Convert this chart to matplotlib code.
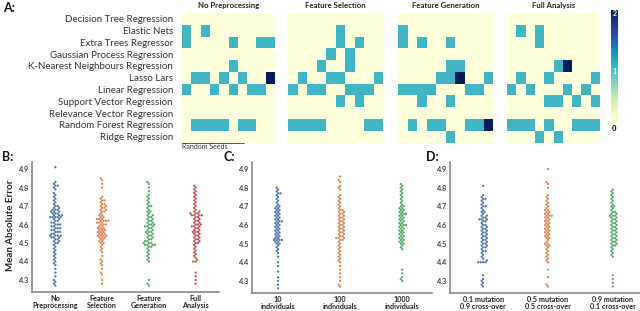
import matplotlib
matplotlib.use('Agg')
import matplotlib.pyplot as plt
import numpy as np
import pandas as pd
import seaborn as sns

# ---------------- data ----------------
models = ["Decision Tree Regression", "Elastic Nets", "Extra Trees Regressor",
          "Gaussian Process Regression", "K-Nearest Neighbours Regression",
          "Lasso Lars", "Linear Regression", "Support Vector Regression",
          "Relevance Vector Regression", "Random Forest Regression", "Ridge Regression"]
panel_titles = ["No Preprocessing", "Feature Selection", "Feature Generation", "Full Analysis"]

heat_no_pre = [
    [0,0,0,0,0,0,0,0,0,0],
    [1,0,1,0,0,0,0,0,0,0],
    [1,0,0,0,0,1,0,0,1,1],
    [0,0,0,0,0,0,0,0,0,0],
    [0,0,0,0,0,1,0,0,0,0],
    [0,1,1,0,1,0,1,0,0,2],
    [1,0,0,1,0,1,0,1,1,0],
    [0,0,0,0,0,0,0,0,0,0],
    [0,0,0,0,0,0,0,0,0,0],
    [0,1,1,1,1,0,1,1,0,0],
    [0,0,0,0,0,0,0,0,0,0]]
heat_feat_sel = [
    [0,0,0,0,0,0,0,0,0,0],
    [0,0,0,0,0,1,0,0,0,0],
    [0,0,0,0,0,1,0,1,0,0],
    [0,0,0,0,1,0,1,0,0,0],
    [0,0,0,1,0,0,1,0,0,0],
    [0,1,0,0,1,1,0,0,0,1],
    [1,0,1,1,0,0,1,1,1,0],
    [0,0,0,0,0,1,0,1,0,0],
    [0,0,0,0,0,0,0,0,0,0],
    [1,1,1,1,0,0,0,0,1,1],
    [0,0,0,0,0,0,0,0,0,0]]
heat_feat_gen = [
    [0,0,0,0,0,0,0,0,0,0],
    [1,0,0,0,0,0,0,0,0,0],
    [1,0,1,0,0,1,0,0,0,0],
    [0,0,0,0,0,0,0,0,0,0],
    [0,0,0,0,0,1,1,0,0,0],
    [0,0,0,0,1,1,2,0,0,1],
    [1,1,1,1,0,0,0,1,1,0],
    [0,0,1,0,0,1,0,0,0,0],
    [0,0,0,0,0,0,0,0,0,0],
    [0,1,0,1,1,0,0,1,1,2],
    [0,0,0,0,0,1,0,0,0,0]]
heat_full = [
    [0,0,0,0,0,0,0,0,0,0],
    [0,1,0,1,0,0,0,0,0,0],
    [0,0,0,1,0,0,0,0,0,0],
    [0,0,0,0,0,0,0,0,0,0],
    [0,0,0,0,0,1,2,0,0,0],
    [0,1,0,0,1,0,0,0,0,1],
    [1,0,1,0,0,0,1,0,1,0],
    [0,0,0,0,1,1,0,1,0,1],
    [0,0,0,0,0,0,0,0,0,0],
    [1,1,1,0,1,0,0,1,1,1],
    [0,0,0,1,0,1,0,0,0,0]]

b_labels = ["No\nPreprocessing", "Feature\nSelection", "Feature\nGeneration", "Full\nAnalysis"]
b_no_pre = [4.91, 4.83, 4.82, 4.81, 4.81, 4.80, 4.79, 4.77, 4.76, 4.75, 4.74, 4.73, 4.72, 4.71, 4.70, 4.70,
            4.69, 4.69, 4.68, 4.68, 4.68, 4.67, 4.67, 4.67, 4.66, 4.66, 4.66, 4.65, 4.65, 4.65, 4.64, 4.64,
            4.64, 4.64, 4.64, 4.63, 4.63, 4.62, 4.62, 4.61, 4.61, 4.60, 4.60, 4.60, 4.59, 4.59, 4.58, 4.58,
            4.58, 4.57, 4.57, 4.56, 4.56, 4.56, 4.55, 4.55, 4.54, 4.54, 4.54, 4.54, 4.53, 4.53, 4.53, 4.52,
            4.52, 4.51, 4.51, 4.50, 4.50, 4.49, 4.48, 4.47, 4.46, 4.45, 4.44, 4.43, 4.42, 4.41, 4.40, 4.39,
            4.38, 4.36, 4.34, 4.32, 4.30, 4.29, 4.28, 4.27]
b_feat_sel = [4.85, 4.84, 4.82, 4.80, 4.75, 4.74, 4.73, 4.73, 4.72, 4.71, 4.71, 4.70, 4.70, 4.69, 4.69, 4.68,
              4.68, 4.67, 4.67, 4.66, 4.65, 4.65, 4.64, 4.64, 4.63, 4.63, 4.63, 4.62, 4.62, 4.62, 4.62, 4.61,
              4.61, 4.61, 4.60, 4.60, 4.60, 4.59, 4.59, 4.58, 4.58, 4.58, 4.57, 4.57, 4.57, 4.56, 4.56, 4.56,
              4.55, 4.55, 4.55, 4.54, 4.54, 4.54, 4.54, 4.53, 4.53, 4.53, 4.52, 4.52, 4.51, 4.51, 4.50, 4.50,
              4.49, 4.48, 4.47, 4.46, 4.45, 4.43, 4.41, 4.40, 4.39, 4.38, 4.36, 4.34, 4.33, 4.30, 4.28]
b_feat_gen = [4.83, 4.82, 4.80, 4.78, 4.76, 4.75, 4.74, 4.73, 4.72, 4.71, 4.70, 4.70, 4.69, 4.68, 4.67, 4.67,
              4.66, 4.65, 4.65, 4.64, 4.64, 4.63, 4.63, 4.62, 4.62, 4.61, 4.61, 4.60, 4.60, 4.60, 4.59, 4.59,
              4.59, 4.58, 4.58, 4.57, 4.57, 4.56, 4.56, 4.56, 4.55, 4.55, 4.54, 4.54, 4.53, 4.53, 4.52, 4.52,
              4.51, 4.51, 4.50, 4.50, 4.50, 4.49, 4.49, 4.49, 4.49, 4.48, 4.48, 4.47, 4.46, 4.45, 4.44, 4.43,
              4.42, 4.41, 4.40, 4.30, 4.28, 4.27]
b_full = [4.81, 4.80, 4.79, 4.78, 4.77, 4.76, 4.75, 4.74, 4.73, 4.72, 4.71, 4.70, 4.69, 4.68, 4.67, 4.67,
          4.66, 4.66, 4.66, 4.65, 4.65, 4.65, 4.65, 4.64, 4.64, 4.63, 4.63, 4.62, 4.62, 4.61, 4.61, 4.60,
          4.60, 4.60, 4.59, 4.59, 4.59, 4.58, 4.58, 4.57, 4.57, 4.56, 4.56, 4.56, 4.55, 4.55, 4.54, 4.54,
          4.53, 4.53, 4.52, 4.52, 4.51, 4.51, 4.50, 4.50, 4.49, 4.48, 4.47, 4.46, 4.45, 4.44, 4.43, 4.42,
          4.41, 4.40, 4.40, 4.34, 4.32, 4.30, 4.28]

c_labels = ["10\nindividuals", "100\nindividuals", "1000\nindividuals"]
c_10 = [4.80, 4.79, 4.78, 4.77, 4.77, 4.76, 4.75, 4.74, 4.73, 4.72, 4.71, 4.70, 4.70, 4.69, 4.69, 4.68,
        4.68, 4.67, 4.67, 4.66, 4.66, 4.65, 4.65, 4.64, 4.64, 4.63, 4.63, 4.62, 4.62, 4.62, 4.61, 4.61,
        4.60, 4.60, 4.59, 4.59, 4.58, 4.58, 4.57, 4.57, 4.56, 4.56, 4.55, 4.55, 4.54, 4.54, 4.53, 4.53,
        4.52, 4.52, 4.52, 4.52, 4.51, 4.51, 4.50, 4.50, 4.49, 4.48, 4.47, 4.46, 4.45, 4.43, 4.40, 4.38,
        4.35, 4.32, 4.30, 4.28, 4.26]
c_100 = [4.86, 4.84, 4.83, 4.81, 4.80, 4.79, 4.76, 4.75, 4.74, 4.73, 4.72, 4.71, 4.70, 4.69, 4.68, 4.68,
         4.67, 4.67, 4.66, 4.66, 4.65, 4.65, 4.64, 4.64, 4.63, 4.63, 4.62, 4.62, 4.61, 4.61, 4.60, 4.60,
         4.59, 4.59, 4.58, 4.58, 4.57, 4.57, 4.56, 4.56, 4.55, 4.55, 4.54, 4.54, 4.53, 4.53, 4.53, 4.52,
         4.52, 4.51, 4.50, 4.49, 4.48, 4.47, 4.46, 4.45, 4.44, 4.43, 4.42, 4.41, 4.40, 4.38, 4.36, 4.34,
         4.32, 4.30, 4.28, 4.27]
c_1000 = [4.82, 4.81, 4.80, 4.79, 4.78, 4.77, 4.76, 4.75, 4.74, 4.73, 4.72, 4.71, 4.70, 4.70, 4.69, 4.69,
          4.68, 4.68, 4.67, 4.67, 4.66, 4.66, 4.66, 4.65, 4.65, 4.64, 4.64, 4.63, 4.63, 4.62, 4.62, 4.61,
          4.61, 4.60, 4.60, 4.60, 4.59, 4.59, 4.58, 4.58, 4.57, 4.57, 4.56, 4.56, 4.55, 4.55, 4.54, 4.54,
          4.53, 4.53, 4.52, 4.52, 4.51, 4.51, 4.50, 4.50, 4.49, 4.48, 4.47, 4.36, 4.34, 4.32, 4.31, 4.30]

d_labels = ["0.1 mutation\n0.9 cross-over", "0.5 mutation\n0.5 cross-over", "0.9 mutation\n0.1 cross-over"]
d_01 = [4.81, 4.76, 4.75, 4.74, 4.74, 4.73, 4.72, 4.71, 4.70, 4.70, 4.69, 4.68, 4.67, 4.67, 4.66, 4.65,
        4.65, 4.64, 4.64, 4.63, 4.63, 4.63, 4.62, 4.62, 4.61, 4.60, 4.60, 4.59, 4.59, 4.58, 4.58, 4.57,
        4.57, 4.56, 4.56, 4.55, 4.55, 4.54, 4.54, 4.53, 4.53, 4.52, 4.52, 4.51, 4.51, 4.50, 4.50, 4.49,
        4.49, 4.48, 4.48, 4.47, 4.46, 4.46, 4.45, 4.44, 4.43, 4.42, 4.41, 4.40, 4.40, 4.40, 4.40, 4.33,
        4.31, 4.30, 4.29, 4.28, 4.27]
d_05 = [4.90, 4.83, 4.82, 4.80, 4.76, 4.75, 4.74, 4.73, 4.72, 4.71, 4.70, 4.69, 4.68, 4.68, 4.67, 4.67,
        4.66, 4.66, 4.65, 4.65, 4.65, 4.64, 4.64, 4.63, 4.63, 4.62, 4.62, 4.61, 4.61, 4.60, 4.60, 4.59,
        4.59, 4.58, 4.58, 4.57, 4.57, 4.56, 4.56, 4.55, 4.55, 4.54, 4.54, 4.53, 4.53, 4.52, 4.51, 4.50,
        4.50, 4.49, 4.49, 4.48, 4.47, 4.46, 4.45, 4.44, 4.43, 4.42, 4.41, 4.40, 4.36, 4.32, 4.28, 4.27]
d_09 = [4.79, 4.78, 4.77, 4.76, 4.75, 4.74, 4.73, 4.72, 4.71, 4.70, 4.70, 4.69, 4.68, 4.67, 4.67, 4.66,
        4.66, 4.65, 4.65, 4.65, 4.64, 4.64, 4.63, 4.63, 4.62, 4.62, 4.61, 4.61, 4.60, 4.60, 4.59, 4.59,
        4.58, 4.58, 4.57, 4.57, 4.56, 4.56, 4.55, 4.55, 4.54, 4.54, 4.53, 4.53, 4.52, 4.52, 4.51, 4.51,
        4.50, 4.50, 4.49, 4.49, 4.48, 4.47, 4.46, 4.45, 4.44, 4.43, 4.33, 4.31, 4.29, 4.27]

yticks = [4.3, 4.4, 4.5, 4.6, 4.7, 4.8, 4.9]
colors = ["#4c72b0", "#dd8452", "#55a868", "#c44e52"]

# ---------------- figure ----------------
sns.set_style("white")
plt.rcParams['font.family'] = ['Lato', 'DejaVu Sans']
W, H = 640, 311
fig = plt.figure(figsize=(W / 100, H / 100), dpi=100)


def ax_px(x0, y0, x1, y1):
    return fig.add_axes([x0 / W, 1 - y1 / H, (x1 - x0) / W, (y1 - y0) / H])


heat_data = [heat_no_pre, heat_feat_sel, heat_feat_gen, heat_full]
heat_pos = [(182, 275), (288, 383), (398, 493), (507, 600)]
im = None
for i, (data, title, (x0, x1)) in enumerate(zip(heat_data, panel_titles, heat_pos)):
    ax = ax_px(x0, 13, x1, 142.5)
    arr = np.array(data)
    im = ax.pcolormesh(arr, cmap='YlGnBu', vmin=0, vmax=2, linewidth=0)
    ax.set_xlim(0, arr.shape[1])
    ax.set_ylim(arr.shape[0], 0)
    ax.set_xticks([])
    for s in ax.spines.values():
        s.set_visible(False)
    if i == 0:
        ax.set_yticks(np.arange(len(models)) + 0.5)
        ax.set_yticklabels(models, fontsize=7, color='#333333')
        ax.tick_params(axis='y', length=0, pad=6.5)
    else:
        ax.set_yticks([])
    ax.set_title(title, fontsize=5.6, fontweight='bold', pad=3.5, color='#222222')

cax = ax_px(611, 10, 618, 125)
cb = fig.colorbar(im, cax=cax)
cb.outline.set_visible(False)
cax.set_yticks([])
fig.text(614.5 / W, 1 - 13 / H, "2", fontsize=5, fontweight='bold', color='white', ha='center', va='center')
fig.text(614.5 / W, 1 - 71.5 / H, "1", fontsize=5, fontweight='bold', color='white', ha='center', va='center')
fig.text(614.5 / W, 1 - 128.5 / H, "0", fontsize=5.5, fontweight='bold', color='black', ha='center', va='center')

# Random seeds line
fig.add_artist(plt.Line2D([182 / W, 244 / W], [1 - 142.8 / H, 1 - 142.8 / H], color='#444444', lw=0.6))
fig.text(182 / W, 1 - 146.8 / H, "Random Seeds", fontsize=5, color='#333333', ha='left', va='center')

# panel letters
for lab, x, y in [("A:", 3, 8), ("B:", 2, 157), ("C:", 224, 157), ("D:", 426, 157)]:
    fig.text(x / W, 1 - y / H, lab, fontsize=9, fontweight='bold', ha='left', va='center', color='#111111')


def swarm_panel(ax, groups, labels, xlim):
    rows = []
    for name, vals in zip(labels, groups):
        for v in vals:
            rows.append((name, v))
    df = pd.DataFrame(rows, columns=['group', 'mae'])
    sns.swarmplot(data=df, x='group', y='mae', hue='group', order=labels, hue_order=labels,
                  palette=colors[:len(labels)], size=1.65, legend=False, ax=ax)
    ax.set_xlim(*xlim)
    ax.set_ylim(4.235, 4.938)
    ax.set_yticks(yticks)
    ax.set_yticklabels([f"{t:.1f}" for t in yticks], fontsize=5.3, fontweight='bold', color='#444444')
    ax.set_xticks(range(len(labels)))
    ax.set_xticklabels(labels, fontsize=5.2, fontweight='bold', color='#222222', linespacing=1.0)
    ax.tick_params(axis='both', length=0)
    ax.tick_params(axis='x', pad=2)
    ax.tick_params(axis='y', pad=2)
    ax.set_xlabel("")
    ax.set_ylabel("")
    for s in ['top', 'right']:
        ax.spines[s].set_visible(False)
    for s in ['left', 'bottom']:
        ax.spines[s].set_color('#888888')
        ax.spines[s].set_linewidth(1.2)


axB = ax_px(32, 162, 219, 292)
swarm_panel(axB, [b_no_pre, b_feat_sel, b_feat_gen, b_full], b_labels, (-0.5, 3.5))
axC = ax_px(252, 162, 432, 293)
swarm_panel(axC, [c_10, c_100, c_1000], c_labels, (-0.42, 2.48))
axD = ax_px(450, 162, 640, 293)
swarm_panel(axD, [d_01, d_05, d_09], d_labels, (-0.51, 2.42))

fig.text(11 / W, 1 - 225 / H, "Mean Absolute Error", rotation=90, fontsize=7, fontweight='bold',
         ha='center', va='center', color='#222222')

fig.savefig("out.png", dpi=100)
